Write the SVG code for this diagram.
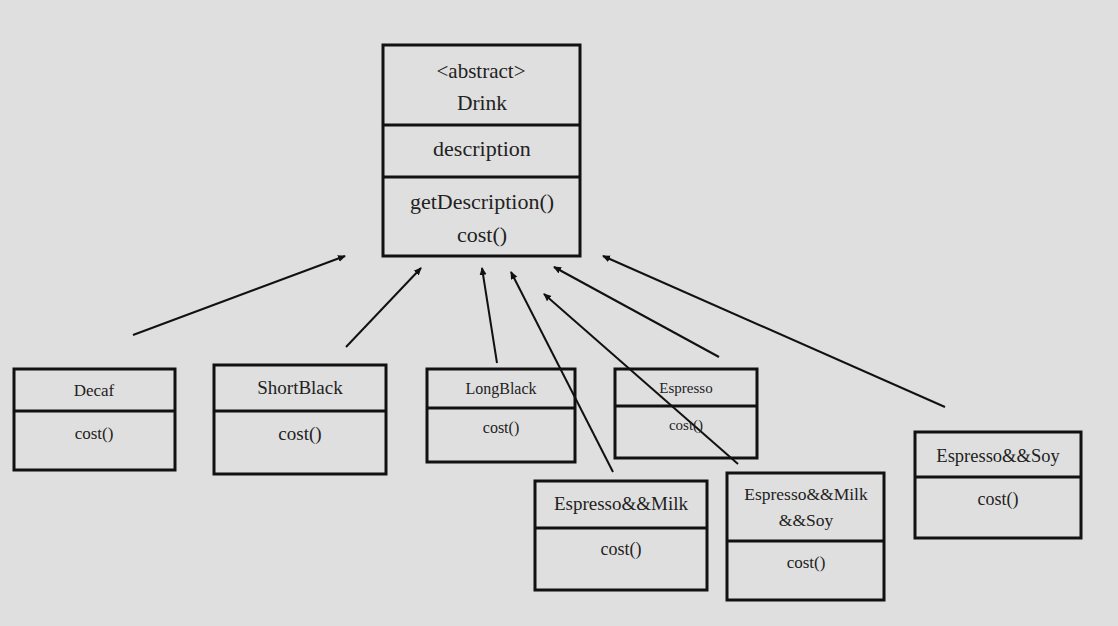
<svg xmlns="http://www.w3.org/2000/svg" width="1118" height="626" viewBox="0 0 1118 626">
<defs>
<style>
.box{fill:none;stroke:#111;stroke-width:3}
.div{stroke:#111;stroke-width:3}
.t{font-family:'Liberation Serif','DejaVu Serif',serif;fill:#222;text-anchor:middle}
.c{stroke:#111;stroke-width:2;fill:none;marker-end:url(#ah)}
</style>
<marker id="ah" markerWidth="8" markerHeight="8" refX="7" refY="4" orient="auto" markerUnits="userSpaceOnUse">
<path d="M0,0.5 L8,4 L0,7.5 Z" fill="#111"/>
</marker>
</defs>
<rect width="1118" height="626" fill="#dfdfdf"/>
<g id="connectors">
<line class="c" x1="133" y1="335" x2="345" y2="256"/>
<line class="c" x1="346" y1="347" x2="421" y2="268"/>
<line class="c" x1="497" y1="363" x2="482" y2="268"/>
<line class="c" x1="613" y1="472" x2="511" y2="272"/>
<line class="c" x1="738" y1="464" x2="544" y2="294"/>
<line class="c" x1="719" y1="357" x2="554" y2="267"/>
<line class="c" x1="945" y1="407" x2="603" y2="256"/>
</g>
<g id="drink">
<rect class="box" x="383" y="45" width="197" height="211"/>
<line class="div" x1="383" y1="125" x2="580" y2="125"/>
<line class="div" x1="383" y1="177" x2="580" y2="177"/>
<text class="t" x="481" y="78" font-size="21">&lt;abstract&gt;</text>
<text class="t" x="482" y="110" font-size="21.5">Drink</text>
<text class="t" x="482" y="156" font-size="22">description</text>
<text class="t" x="482" y="209" font-size="22">getDescription()</text>
<text class="t" x="482" y="242" font-size="22">cost()</text>
</g>
<g id="decaf">
<rect class="box" x="14" y="369" width="161" height="101"/>
<line class="div" x1="14" y1="411" x2="175" y2="411"/>
<text class="t" x="94" y="396" font-size="17">Decaf</text>
<text class="t" x="94" y="439" font-size="17">cost()</text>
</g>
<g id="shortblack">
<rect class="box" x="214" y="365" width="172" height="109"/>
<line class="div" x1="214" y1="411" x2="386" y2="411"/>
<text class="t" x="300" y="394" font-size="19">ShortBlack</text>
<text class="t" x="300" y="440" font-size="19">cost()</text>
</g>
<g id="longblack">
<rect class="box" x="427" y="369" width="148" height="93"/>
<line class="div" x1="427" y1="408" x2="575" y2="408"/>
<text class="t" x="501" y="394" font-size="16">LongBlack</text>
<text class="t" x="501" y="433" font-size="16">cost()</text>
</g>
<g id="espresso">
<rect class="box" x="615" y="369" width="142" height="89"/>
<line class="div" x1="615" y1="406" x2="757" y2="406"/>
<text class="t" x="686" y="393" font-size="15">Espresso</text>
<text class="t" x="686" y="430" font-size="15">cost()</text>
</g>
<g id="espresso-milk">
<rect class="box" x="535" y="481" width="172" height="109"/>
<line class="div" x1="535" y1="528" x2="707" y2="528"/>
<text class="t" x="621" y="510" font-size="19">Espresso&amp;&amp;Milk</text>
<text class="t" x="621" y="555" font-size="18">cost()</text>
</g>
<g id="espresso-milk-soy">
<rect class="box" x="727" y="473" width="157" height="127"/>
<line class="div" x1="727" y1="541" x2="884" y2="541"/>
<text class="t" x="806" y="500" font-size="17.5">Espresso&amp;&amp;Milk</text>
<text class="t" x="806" y="526" font-size="17.5">&amp;&amp;Soy</text>
<text class="t" x="806" y="568" font-size="17">cost()</text>
</g>
<g id="espresso-soy">
<rect class="box" x="915" y="432" width="166" height="106"/>
<line class="div" x1="915" y1="477" x2="1081" y2="477"/>
<text class="t" x="998" y="462" font-size="18.5">Espresso&amp;&amp;Soy</text>
<text class="t" x="998" y="505" font-size="18">cost()</text>
</g>
</svg>
